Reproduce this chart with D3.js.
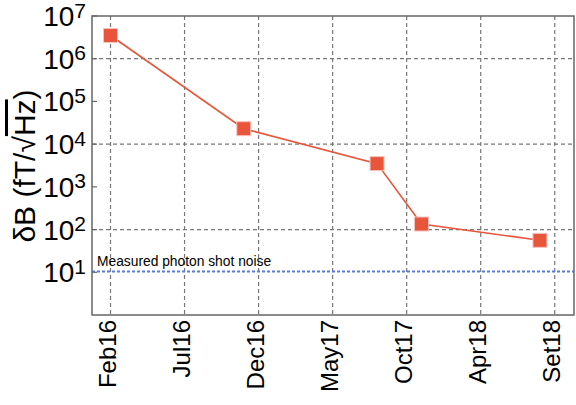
<!DOCTYPE html>
<html><head><meta charset="utf-8">
<script src="https://cdn.jsdelivr.net/npm/d3@7"></script>
<style>body{margin:0;background:#fff}svg{display:block}</style>
</head><body>
<svg id="c" width="576" height="405"></svg>
<script>
// months since Feb 2016
const pointMonths = [0, 9, 18, 21, 29];
const pointValues = [3.5e6, 2.3e4, 3.5e3, 135, 56];
const xTickMonths = [0, 5, 10, 15, 20, 25, 30];
const xTickLabels = ["Feb16", "Jul16", "Dec16", "May17", "Oct17", "Apr18", "Set18"];
const yTickExps = [1, 2, 3, 4, 5, 6, 7];
const yGridExps = [2, 4, 6];
const shotNoise = 10.5;
const shotNoiseLabel = "Measured photon shot noise";

const svg = d3.select("#c");
const L = 92, R = 574, T = 16, B = 315;
const x = d3.scaleLinear().domain([-1.25, 31.3]).range([L, R]);
const y = d3.scaleLog().domain([1, 1e7]).range([B, T]);
const font = "Liberation Sans, Arial, Helvetica, sans-serif";

// grid
const g = svg.append("g");
g.selectAll("line.v").data(xTickMonths).join("line")
  .attr("x1", d => x(d)).attr("x2", d => x(d)).attr("y1", T).attr("y2", B)
  .attr("stroke", "#777").attr("stroke-width", 1.2).attr("stroke-dasharray", "4,3");
g.selectAll("line.h").data(yGridExps).join("line")
  .attr("x1", L).attr("x2", R).attr("y1", d => y(Math.pow(10, d))).attr("y2", d => y(Math.pow(10, d)))
  .attr("stroke", "#777").attr("stroke-width", 1.2).attr("stroke-dasharray", "4,3");

// y ticks (small)
g.selectAll("line.yt").data(yTickExps).join("line")
  .attr("x1", L).attr("x2", L + 5).attr("y1", d => y(Math.pow(10, d))).attr("y2", d => y(Math.pow(10, d)))
  .attr("stroke", "#666").attr("stroke-width", 1.2);

// shot noise line
svg.append("line").attr("x1", L).attr("x2", R).attr("y1", y(shotNoise)).attr("y2", y(shotNoise))
  .attr("stroke", "#5b7be0").attr("stroke-width", 2).attr("stroke-dasharray", "3,2");
svg.append("text").attr("x", L + 5).attr("y", y(shotNoise) - 5)
  .attr("font-family", font).attr("font-size", 13.8).text(shotNoiseLabel);

// frame
svg.append("rect").attr("x", L).attr("y", T).attr("width", R - L).attr("height", B - T)
  .attr("fill", "none").attr("stroke", "#666").attr("stroke-width", 1.5);

// y tick labels
const yl = svg.append("g").selectAll("text").data(yTickExps).join("text")
  .attr("x", 86).attr("y", d => y(Math.pow(10, d)) + 10)
  .attr("text-anchor", "end").attr("font-family", font).attr("font-size", 28);
yl.append("tspan").text("10");
yl.append("tspan").attr("font-size", 21).attr("dy", -8.5).text(d => d);

// x tick labels
svg.append("g").selectAll("text").data(xTickMonths).join("text")
  .attr("transform", d => `translate(${x(d) + 5},${320}) rotate(-90)`)
  .attr("text-anchor", "end").attr("font-family", font).attr("font-size", 24)
  .text((d, i) => xTickLabels[i]);

// y axis title
const yt = svg.append("text").attr("transform", "translate(35,166) rotate(-90)")
  .attr("text-anchor", "middle").attr("font-family", font).attr("font-size", 30);
yt.append("tspan").text("δB (fT/√");
yt.append("tspan").attr("text-decoration", "overline").text("Hz");
yt.append("tspan").text(")");

// data line
const line = d3.line().x((d, i) => x(pointMonths[i])).y(d => y(d));
svg.append("path").datum(pointValues).attr("d", line)
  .attr("fill", "none").attr("stroke", "#e8553a").attr("stroke-width", 1.6);
svg.append("g").selectAll("rect").data(pointValues).join("rect")
  .attr("x", (d, i) => x(pointMonths[i]) - 7).attr("y", d => y(d) - 7)
  .attr("width", 14).attr("height", 14)
  .attr("fill", "#e8553a").attr("stroke", "#f6c4c0").attr("stroke-width", 1);
</script>
</body></html>
